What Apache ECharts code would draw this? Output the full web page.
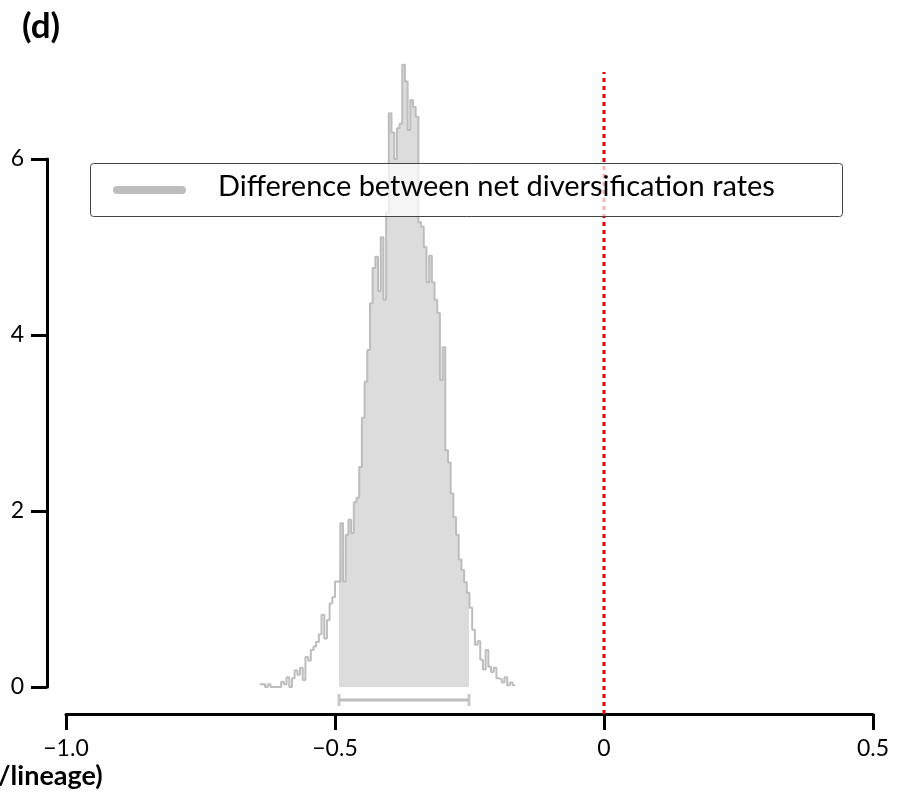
<!DOCTYPE html>
<html>
<head>
<meta charset="utf-8">
<script src="https://cdn.jsdelivr.net/npm/echarts@6/dist/echarts.min.js"></script>
<style>
html,body{margin:0;padding:0;background:#fff;}
#chart{width:909px;height:793px;}
</style>
</head>
<body>
<div id="chart"></div>
<script>
// ---- data ----
const panelLabel = '(d)';
const seriesName = 'Difference between net diversification rates';
const xAxisTitle = '/lineage)';
const binStart = -0.64;
const binWidth = 0.005;
const density = [
  0.03, 0.03, 0.0, 0.03, 0.0, 0.0, 0.0, 0.0, 0.06, 0.03,
  0.11, 0.0, 0.10, 0.19, 0.14, 0.22, 0.08, 0.34, 0.30, 0.42,
  0.46, 0.51, 0.60, 0.82, 0.55, 0.76, 0.95, 1.02, 1.20, 1.19,
  1.86, 1.20, 1.73, 1.90, 1.75, 2.10, 2.15, 2.50, 3.06, 3.47,
  3.83, 4.36, 4.76, 4.89, 4.50, 5.11, 4.40, 5.39, 6.52, 6.30,
  6.00, 6.35, 6.40, 7.07, 6.88, 6.33, 6.67, 6.59, 6.48, 5.28,
  5.23, 5.00, 4.60, 4.90, 4.60, 4.40, 4.25, 3.49, 3.86, 2.69,
  2.55, 2.20, 1.93, 1.73, 1.45, 1.33, 1.19, 1.07, 0.90, 0.65,
  0.48, 0.52, 0.31, 0.20, 0.42, 0.23, 0.17, 0.22, 0.10, 0.09,
  0.05, 0.11, 0.02, 0.05, 0.02
];
const hpdInterval = [-0.4926, -0.2509];
const hpdBarLevel = -0.148;
const zeroLineRange = [-0.307, 6.99];
const xTickValues = [-1.0, -0.5, 0, 0.5];
const xTickLabels = ['\u22121.0', '\u22120.5', '0', '0.5'];
const yTickValues = [0, 2, 4, 6];
const yTickLabels = ['0', '2', '4', '6'];

// ---- build ----
const stepPts = [];
density.forEach((d, i) => {
  const a = binStart + i * binWidth, b = a + binWidth;
  stepPts.push([a, d], [b, d]);
});
const fillPts = [];
density.forEach((d, i) => {
  const a = binStart + i * binWidth, b = a + binWidth;
  if (b <= hpdInterval[0] || a >= hpdInterval[1]) return;
  fillPts.push([Math.max(a, hpdInterval[0]), d], [Math.min(b, hpdInterval[1]), d]);
});

const FONT = 'Lato, "Open Sans", "Noto Sans", sans-serif';
const grey = '#bdbdbd';
const chart = echarts.init(document.getElementById('chart'), null, {renderer: 'canvas'});
chart.setOption({
  animation: false,
  backgroundColor: '#ffffff',
  grid: {left: 66, right: 36, top: 159, bottom: 106, containLabel: false},
  xAxis: {
    type: 'value', min: -1.0, max: 0.5, interval: 0.5,
    position: 'bottom', offset: 27,
    axisLine: {show: true, onZero: false, lineStyle: {color: '#000', width: 3}},
    axisTick: {show: true, length: 16, lineStyle: {color: '#000', width: 3}},
    splitLine: {show: false},
    axisLabel: {
      margin: 23, fontFamily: FONT, fontSize: 23, color: '#000',
      formatter: v => { const k = xTickValues.findIndex(t => Math.abs(t - v) < 1e-9); return k >= 0 ? xTickLabels[k] : ''; }
    }
  },
  yAxis: {
    type: 'value', min: 0, max: 6, interval: 2,
    position: 'left', offset: 19,
    axisLine: {show: true, onZero: false, lineStyle: {color: '#000', width: 3}},
    axisTick: {show: true, length: 16, lineStyle: {color: '#000', width: 3}},
    splitLine: {show: false},
    axisLabel: {
      margin: 23, fontFamily: FONT, fontSize: 23, color: '#000',
      formatter: v => { const k = yTickValues.findIndex(t => Math.abs(t - v) < 1e-9); return k >= 0 ? yTickLabels[k] : ''; }
    }
  },
  series: [
    {
      type: 'line', data: fillPts, showSymbol: false, clip: false, z: 1,
      lineStyle: {width: 0, color: '#dcdcdc'},
      areaStyle: {color: '#dcdcdc', opacity: 1}
    },
    {
      type: 'line', data: stepPts, showSymbol: false, clip: false, z: 2,
      lineStyle: {width: 2, color: grey}
    },
    {
      type: 'line', data: [[hpdInterval[0], hpdBarLevel], [hpdInterval[1], hpdBarLevel]],
      showSymbol: false, clip: false, z: 2,
      lineStyle: {width: 3, color: grey}
    },
    {
      type: 'scatter', data: [[hpdInterval[0], hpdBarLevel], [hpdInterval[1], hpdBarLevel]],
      symbol: 'rect', symbolSize: [3, 12], clip: false, z: 2,
      itemStyle: {color: grey}
    },
    {
      type: 'line', data: [[0, zeroLineRange[0]], [0, zeroLineRange[1]]],
      showSymbol: false, clip: false, z: 3,
      lineStyle: {width: 3, color: '#ee0000', type: [4, 4]}
    }
  ],
  graphic: [
    {type: 'text', left: 22, top: 9, z: 10,
     style: {text: panelLabel, font: 'bold 35px ' + FONT, fill: '#000'}},
    {type: 'text', left: -2, top: 763, z: 10,
     style: {text: xAxisTitle, font: 'bold 27px ' + FONT, fill: '#000'}},
    {type: 'rect', z: 20, shape: {x: 90.5, y: 163.5, width: 752, height: 53, r: 3},
     style: {fill: 'rgba(255,255,255,0.7)', stroke: '#444', lineWidth: 1}},
    {type: 'line', z: 21, shape: {x1: 117, y1: 190, x2: 182, y2: 190},
     style: {stroke: grey, lineWidth: 8, lineCap: 'round'}},
    {type: 'text', z: 21, left: 218, top: 172,
     style: {text: seriesName, font: '29px ' + FONT, fill: '#000'}}
  ]
});
</script>
</body>
</html>
